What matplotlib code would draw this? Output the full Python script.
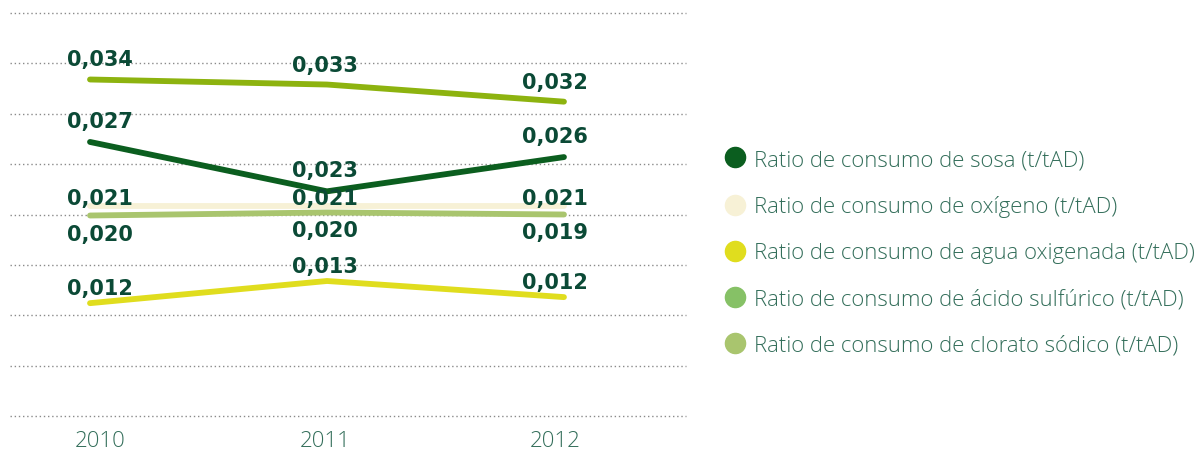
import matplotlib
matplotlib.use("Agg")
import matplotlib.pyplot as plt
from matplotlib.lines import Line2D

# ---- data ---------------------------------------------------------------
years = ["2010", "2011", "2012"]

series_names = [
    "Ratio de consumo de sosa (t/tAD)",
    "Ratio de consumo de oxígeno (t/tAD)",
    "Ratio de consumo de agua oxigenada (t/tAD)",
    "Ratio de consumo de ácido sulfúrico (t/tAD)",
    "Ratio de consumo de clorato sódico (t/tAD)",
]

sosa       = [0.0272, 0.0223, 0.0257]
oxigeno    = [0.0208, 0.0208, 0.0208]
agua_oxig  = [0.0112, 0.0134, 0.0118]
sulfurico  = [0.0334, 0.0329, 0.0312]
clorato    = [0.0199, 0.0202, 0.0200]

sosa_lbl      = ["0,027", "0,023", "0,026"]
oxigeno_lbl   = ["0,021", "0,021", "0,021"]
agua_lbl      = ["0,012", "0,013", "0,012"]
sulfurico_lbl = ["0,034", "0,033", "0,032"]
clorato_lbl   = ["0,020", "0,020", "0,019"]

grid_levels = [0.005 * k for k in range(9)]

# ---- styling ------------------------------------------------------------
line_colors   = ["#0b5e1f", "#f7f1d6", "#e0dd1e", "#8db30f", "#a9c56e"]
legend_colors = ["#0b5e1f", "#f7f1d6", "#e0dd1e", "#86c166", "#a9c56e"]
label_dy      = [-21, -8, -15, -20, 18]     # pixel offsets of value labels
year_dx       = [10, -2, -9]
TXT = "#336e5a"
VAL = "#0b4a36"
FONT = ["Open Sans", "DejaVu Sans"]

fig = plt.figure(figsize=(12.04, 4.52), dpi=100)
ax = fig.add_axes([10 / 1204, 1 - 417 / 452, 676 / 1204, 403 / 452])

x = list(range(len(years)))
data   = [sosa, oxigeno, agua_oxig, sulfurico, clorato]
labels = [sosa_lbl, oxigeno_lbl, agua_lbl, sulfurico_lbl, clorato_lbl]
order  = [1, 4, 2, 0, 3]   # draw order

for g in grid_levels:
    ax.axhline(g, color="#8a8a8a", lw=1.0, ls=(0, (1, 2)), clip_on=False, zorder=1)

for i in order:
    ax.plot(x, data[i], color=line_colors[i], lw=4.2,
            solid_capstyle="round", solid_joinstyle="miter", zorder=3)

for i in range(len(data)):
    for j, (v, s) in enumerate(zip(data[i], labels[i])):
        ax.annotate(s, (j, v), xytext=(year_dx[j], -label_dy[i]),
                    textcoords="offset pixels", ha="center", va="center",
                    fontsize=15, fontweight="bold", color=VAL,
                    family="DejaVu Sans", zorder=5)

ax.set_ylim(0, 0.040)
ax.set_xlim(-0.3376, 2.515)
ax.set_yticks([])
ax.set_xticks([xx + d / 237 for xx, d in zip(x, year_dx)])
ax.set_xticklabels(years, fontsize=16, color=TXT, family=FONT, fontweight="light")
ax.tick_params(axis="x", length=0, pad=10)
for sp in ax.spines.values():
    sp.set_visible(False)

handles = [Line2D([], [], ls="none", marker="o", markersize=14.5,
                  markerfacecolor=c, markeredgecolor=c) for c in legend_colors]
leg = fig.legend(handles, series_names, loc="center left",
                 bbox_to_anchor=(725 / 1204, 1 - 253.5 / 452),
                 frameon=False, handlelength=0.95, handletextpad=0.38,
                 labelspacing=1.14, borderpad=0, borderaxespad=0,
                 prop={"family": FONT, "size": 15.9, "weight": "light"})
for t in leg.get_texts():
    t.set_color(TXT)

fig.savefig("out.png", dpi=100)
